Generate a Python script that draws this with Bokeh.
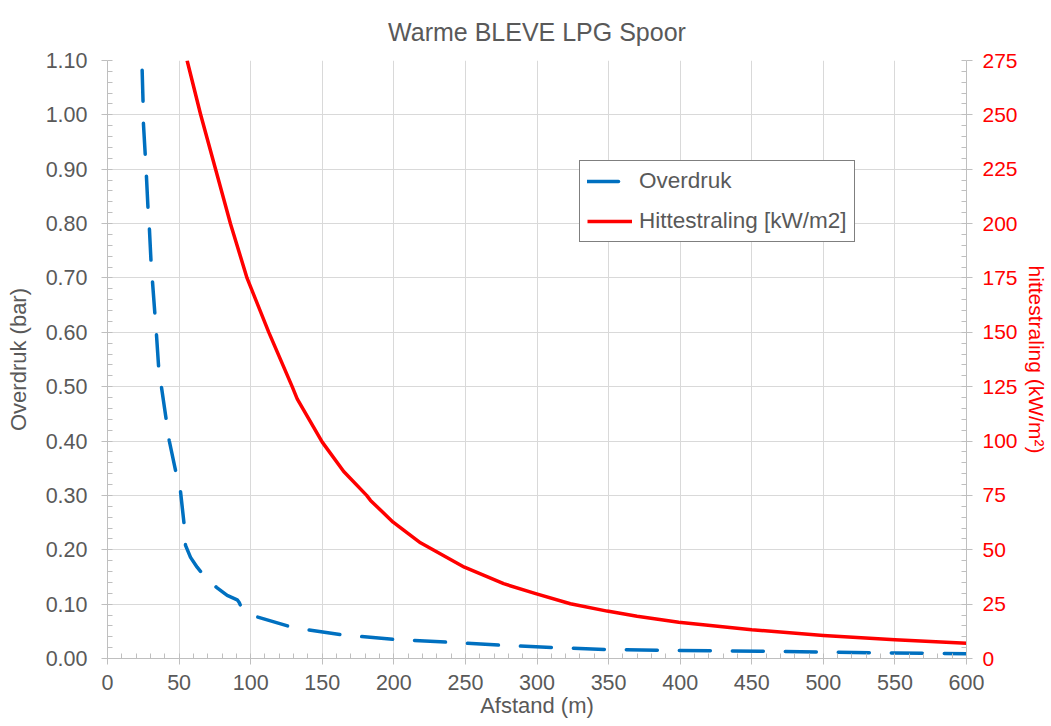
from bokeh.plotting import figure
from bokeh.models import Range1d, LinearAxis, FixedTicker, NumeralTickFormatter
from bokeh.embed import file_html
from bokeh.resources import INLINE
import numpy as np

# ---- data ----
afstand_druk = [24.2, 24.9, 25.1, 26.5, 27.2, 28.4, 29.3, 30.5, 31.4, 33.3, 34.2, 35.8,
                37.7, 41.2, 43.1, 48.0, 51.0, 53.6, 54.5, 58.0, 62.6, 66.3, 76.1, 83.6,
                90.6, 92.0, 93.6, 104, 127, 140, 164, 176.7, 201, 238, 274, 311, 348,
                400, 456, 501, 550, 600]
overdruk = [1.082, 1.017, 0.984, 0.920, 0.887, 0.822, 0.789, 0.725, 0.694, 0.627, 0.596, 0.533,
            0.499, 0.436, 0.401, 0.340, 0.307, 0.245, 0.208, 0.186, 0.168, 0.156, 0.131, 0.116,
            0.108, 0.103, 0.093, 0.077, 0.059, 0.0528, 0.0436, 0.0405, 0.035, 0.030, 0.0245,
            0.0202, 0.0166, 0.0147, 0.0134, 0.0116, 0.0100, 0.0086]

afstand_hitte = [55.6, 64.9, 75.4, 85.9, 97.5, 112.6, 129, 132.5, 150, 165, 181, 183.7,
                 199.5, 218.6, 249.3, 276.7, 299.1, 323.3, 349, 369.9, 399, 450, 500,
                 550, 600]
hittestraling = [275, 250.5, 225.2, 199.9, 174.9, 150.1, 125, 119.4, 99.5, 86, 75, 72.7,
                 62.7, 53.2, 42.0, 34.4, 29.8, 25.2, 21.8, 19.4, 16.7, 13.2, 10.6,
                 8.6, 7.0]

x_ticks = [0, 50, 100, 150, 200, 250, 300, 350, 400, 450, 500, 550, 600]
y_ticks = [0.0, 0.1, 0.2, 0.3, 0.4, 0.5, 0.6, 0.7, 0.8, 0.9, 1.0, 1.1]
y2_ticks = [0, 25, 50, 75, 100, 125, 150, 175, 200, 225, 250, 275]

title_text = "Warme BLEVE LPG Spoor"
x_label = "Afstand (m)"
y_label = "Overdruk (bar)"
y2_label = "hittestraling (kW/m\u00b2)"
series_names = ["Overdruk", "Hittestraling [kW/m2]"]

# ---- styling ----
FONT = "Liberation Sans"
GREY = "#595959"
AXIS = "#BFBFBF"
GRID = "#D9D9D9"
BLUE = "#0070C0"
RED = "#FF0000"

p = figure(width=1051, height=726, output_backend="svg", toolbar_location=None,
           x_range=Range1d(0, 600), y_range=Range1d(0, 1.1),
           min_border_left=107, min_border_right=85, min_border_top=60, min_border_bottom=68,
           title=title_text)
p.extra_y_ranges = {"heat": Range1d(0, 275)}
p.outline_line_color = None
p.background_fill_color = "white"
p.border_fill_color = "white"

p.title.align = "center"
p.title.text_font = FONT
p.title.text_font_size = "25px"
p.title.text_font_style = "normal"
p.title.text_color = GREY
p.title.standoff = 29

xt = FixedTicker(ticks=x_ticks, minor_ticks=list(np.arange(0, 601, 10)))
yt = FixedTicker(ticks=y_ticks, minor_ticks=list(np.round(np.arange(0, 1.101, 0.02), 3)))
y2t = FixedTicker(ticks=y2_ticks, minor_ticks=list(np.arange(0, 276, 5)))

xa = p.xaxis[0]
ya = p.yaxis[0]
xa.ticker = xt
ya.ticker = yt
ya.formatter = NumeralTickFormatter(format="0.00")
xa.axis_label = x_label
ya.axis_label = y_label

y2a = LinearAxis(y_range_name="heat", ticker=y2t, axis_label=y2_label)
p.add_layout(y2a, "right")

for ax, col in ((xa, GREY), (ya, GREY), (y2a, RED)):
    ax.axis_line_color = AXIS
    ax.major_tick_line_color = AXIS
    ax.minor_tick_line_color = AXIS
    ax.major_tick_out = 6
    ax.major_tick_in = 0
    ax.minor_tick_out = 0
    ax.minor_tick_in = 5
    ax.major_label_text_font = FONT
    ax.major_label_text_font_size = "21.5px"
    ax.major_label_text_color = col
    ax.axis_label_text_font = FONT
    ax.axis_label_text_font_size = "22px"
    ax.axis_label_text_font_style = "normal"
    ax.axis_label_text_color = col

ya.major_label_standoff = 14
ya.axis_label_standoff = 12
xa.major_label_standoff = 10
xa.axis_label_standoff = 0
y2a.major_label_standoff = 10
y2a.axis_label_standoff = 4
y2a.major_label_text_font_size = "21px"
y2a.axis_label_text_font_size = "21px"

p.xgrid.ticker = xt
p.ygrid.ticker = yt
p.xgrid.grid_line_color = GRID
p.ygrid.grid_line_color = GRID

p.line(afstand_druk, overdruk, line_color=BLUE, line_width=3.5, line_dash="31 22",
       line_cap="round", line_join="round", legend_label=series_names[0])
p.line(afstand_hitte, hittestraling, line_color=RED, line_width=3.5, y_range_name="heat",
       line_join="round", legend_label=series_names[1])

lg = p.legend[0]
lg.location = (472, 416)
lg.margin = 0
lg.padding = 7
lg.spacing = 14
lg.glyph_width = 45
lg.glyph_height = 22
lg.label_height = 22
lg.label_standoff = 7
lg.label_text_font = FONT
lg.label_text_font_size = "22.5px"
lg.label_text_color = GREY
lg.border_line_color = "black"
lg.border_line_width = 1
lg.background_fill_color = "white"
lg.background_fill_alpha = 1.0

open("out.html", "w").write(file_html(p, INLINE))
